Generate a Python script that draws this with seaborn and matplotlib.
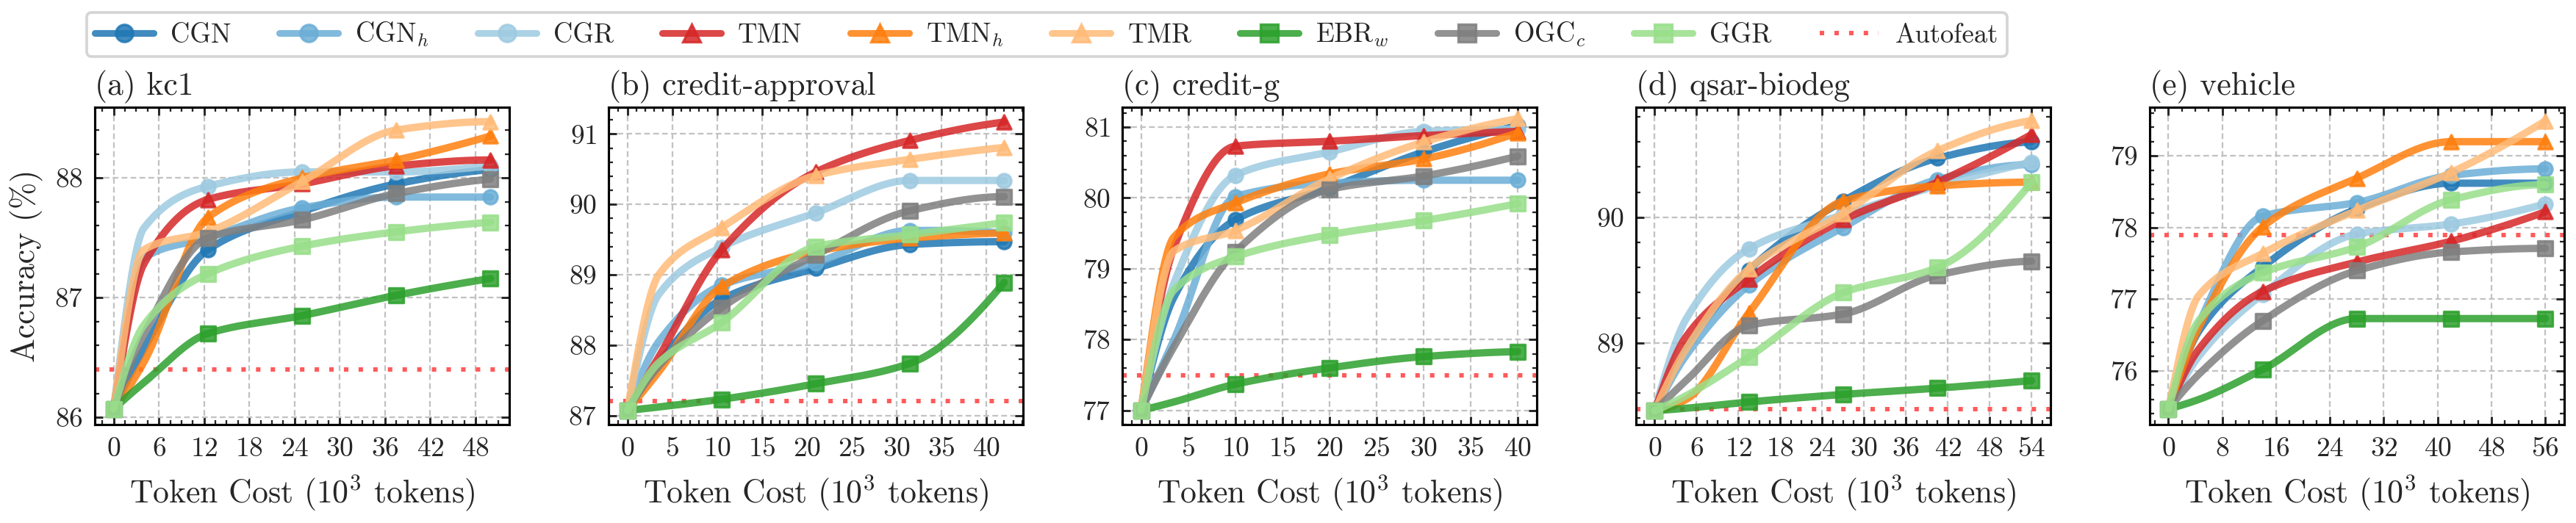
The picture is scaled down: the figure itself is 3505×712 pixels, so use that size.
import numpy as np
import matplotlib
matplotlib.use("Agg")
import matplotlib.pyplot as plt
from matplotlib.lines import Line2D
from matplotlib.ticker import MultipleLocator, AutoMinorLocator
import seaborn as sns

# Methods, colours and markers (legend order)
METHODS = ["CGN", "CGN$_h$", "CGR", "TMN", "TMN$_h$", "TMR", "EBR$_w$", "OGC$_c$", "GGR"]
COLORS = ["#1f77b4", "#6baed6", "#9ecae1", "#d62728", "#ff7f0e", "#ffbb78",
          "#2ca02c", "#7f7f7f", "#98df8a"]
MARKERS = ["o", "o", "o", "^", "^", "^", "s", "s", "s"]

# (a) kc1 -- second point is an unmarked intermediate step
KC1_X = [0, 4, 12.5, 25, 37.5, 50]
KC1_CGN = [86.07, 86.57, 87.40, 87.72, 87.95, 88.07]
KC1_CGNH = [86.07, 87.33, 87.50, 87.75, 87.84, 87.84]
KC1_CGR = [86.07, 87.58, 87.93, 88.05, 88.05, 88.10]
KC1_TMN = [86.07, 87.28, 87.82, 87.95, 88.10, 88.15]
KC1_TMNH = [86.07, 86.46, 87.67, 88.00, 88.15, 88.35]
KC1_TMR = [86.07, 87.40, 87.55, 87.97, 88.40, 88.47]
KC1_EBR = [86.07, 86.29, 86.70, 86.85, 87.02, 87.16]
KC1_OGC = [86.07, 86.69, 87.50, 87.65, 87.87, 87.99]
KC1_GGR = [86.07, 86.77, 87.20, 87.43, 87.55, 87.63]
KC1_AUTOFEAT = 86.40

# (b) credit-approval
CA_X = [0, 3.5, 10.5, 21, 31.5, 42]
CA_CGN = [87.07, 87.75, 88.65, 89.09, 89.43, 89.47]
CA_CGNH = [87.07, 88.05, 88.85, 89.17, 89.63, 89.59]
CA_CGR = [87.07, 88.72, 89.39, 89.88, 90.34, 90.34]
CA_TMN = [87.07, 87.83, 89.35, 90.46, 90.91, 91.17]
CA_TMNH = [87.07, 87.62, 88.83, 89.33, 89.52, 89.59]
CA_TMR = [87.07, 89.00, 89.67, 90.41, 90.64, 90.81]
CA_EBR = [87.07, 87.12, 87.23, 87.45, 87.74, 88.89]
CA_OGC = [87.07, 87.70, 88.53, 89.28, 89.91, 90.11]
CA_GGR = [87.07, 87.75, 88.32, 89.40, 89.57, 89.74]
CA_AUTOFEAT = 87.20

# (c) credit-g
CG_X = [0, 3.5, 10, 20, 30, 40]
CG_CGN = [77.0, 78.6, 79.69, 80.14, 80.65, 81.02]
CG_CGNH = [77.0, 78.0, 80.02, 80.21, 80.25, 80.25]
CG_CGR = [77.0, 78.8, 80.32, 80.65, 80.94, 80.97]
CG_TMN = [77.0, 79.3, 80.73, 80.80, 80.88, 80.94]
CG_TMNH = [77.0, 79.45, 79.93, 80.34, 80.55, 80.92]
CG_TMR = [77.0, 79.25, 79.54, 80.27, 80.79, 81.12]
CG_EBR = [77.0, 77.12, 77.37, 77.60, 77.76, 77.83]
CG_OGC = [77.0, 77.9, 79.24, 80.12, 80.31, 80.59]
CG_GGR = [77.0, 78.7, 79.17, 79.48, 79.68, 79.92]
CG_AUTOFEAT = 77.50

# (d) qsar-biodeg
QB_X = [0, 4.5, 13.5, 27, 40.5, 54]
QB_CGN = [88.46, 88.95, 89.58, 90.13, 90.47, 90.60]
QB_CGNH = [88.46, 88.90, 89.46, 89.92, 90.30, 90.42]
QB_CGR = [88.46, 89.19, 89.75, 90.02, 90.25, 90.44]
QB_TMN = [88.46, 89.05, 89.51, 89.98, 90.28, 90.66]
QB_TMNH = [88.46, 88.55, 89.24, 90.13, 90.25, 90.28]
QB_TMR = [88.46, 88.95, 89.59, 90.03, 90.53, 90.77]
QB_EBR = [88.46, 88.48, 88.53, 88.59, 88.64, 88.70]
QB_OGC = [88.46, 88.70, 89.14, 89.23, 89.54, 89.65]
QB_GGR = [88.46, 88.58, 88.89, 89.40, 89.60, 90.28]
QB_AUTOFEAT = 88.47

# (e) vehicle
VE_X = [0, 4.5, 14, 28, 42, 56]
VE_CGN = [75.47, 76.55, 77.45, 78.26, 78.62, 78.62]
VE_CGNH = [75.47, 76.65, 78.16, 78.35, 78.73, 78.82]
VE_CGR = [75.47, 76.20, 77.07, 77.91, 78.05, 78.33]
VE_TMN = [75.47, 76.30, 77.11, 77.52, 77.81, 78.22]
VE_TMNH = [75.47, 76.60, 78.01, 78.69, 79.20, 79.20]
VE_TMR = [75.47, 77.05, 77.64, 78.24, 78.77, 79.49]
VE_EBR = [75.47, 75.60, 76.02, 76.73, 76.73, 76.73]
VE_OGC = [75.47, 75.95, 76.70, 77.40, 77.66, 77.71]
VE_GGR = [75.47, 76.70, 77.37, 77.73, 78.39, 78.60]
VE_AUTOFEAT = 77.90

PANELS = [
    ("(a) kc1", KC1_X, [KC1_CGN, KC1_CGNH, KC1_CGR, KC1_TMN, KC1_TMNH, KC1_TMR,
                        KC1_EBR, KC1_OGC, KC1_GGR], KC1_AUTOFEAT, 6, (85.94, 88.59)),
    ("(b) credit-approval", CA_X, [CA_CGN, CA_CGNH, CA_CGR, CA_TMN, CA_TMNH, CA_TMR,
                                   CA_EBR, CA_OGC, CA_GGR], CA_AUTOFEAT, 5, (86.87, 91.38)),
    ("(c) credit-g", CG_X, [CG_CGN, CG_CGNH, CG_CGR, CG_TMN, CG_TMNH, CG_TMR,
                            CG_EBR, CG_OGC, CG_GGR], CG_AUTOFEAT, 5, (76.80, 81.28)),
    ("(d) qsar-biodeg", QB_X, [QB_CGN, QB_CGNH, QB_CGR, QB_TMN, QB_TMNH, QB_TMR,
                               QB_EBR, QB_OGC, QB_GGR], QB_AUTOFEAT, 6, (88.35, 90.876)),
    ("(e) vehicle", VE_X, [VE_CGN, VE_CGNH, VE_CGR, VE_TMN, VE_TMNH, VE_TMR,
                           VE_EBR, VE_OGC, VE_GGR], VE_AUTOFEAT, 8, (75.25, 79.68)),
]

LW = 2.4
MS = 4.6
ALPHA = 0.85
AF_COLOR = "#ff5a5a"
AF_STYLE = (0, (1, 2.3))


def pchip(x, y, xs):
    # monotone cubic (Fritsch-Carlson), only used to draw the smooth curves
    x = np.asarray(x, float)
    y = np.asarray(y, float)
    h = np.diff(x)
    d = np.diff(y) / h
    n = len(x)
    m = np.zeros(n)
    for k in range(1, n - 1):
        if d[k - 1] * d[k] > 0:
            w1 = 2 * h[k] + h[k - 1]
            w2 = h[k] + 2 * h[k - 1]
            m[k] = (w1 + w2) / (w1 / d[k - 1] + w2 / d[k])

    def end_slope(h0, h1, d0, d1):
        s = ((2 * h0 + h1) * d0 - h0 * d1) / (h0 + h1)
        if np.sign(s) != np.sign(d0):
            s = 0.0
        elif np.sign(d0) != np.sign(d1) and abs(s) > abs(3 * d0):
            s = 3 * d0
        return s

    m[0] = end_slope(h[0], h[1], d[0], d[1])
    m[-1] = end_slope(h[-1], h[-2], d[-1], d[-2])
    idx = np.clip(np.searchsorted(x, xs) - 1, 0, n - 2)
    t = (xs - x[idx]) / h[idx]
    h00 = 2 * t**3 - 3 * t**2 + 1
    h10 = t**3 - 2 * t**2 + t
    h01 = -2 * t**3 + 3 * t**2
    h11 = t**3 - t**2
    return (h00 * y[idx] + h10 * h[idx] * m[idx]
            + h01 * y[idx + 1] + h11 * h[idx] * m[idx + 1])


sns.set_theme(style="ticks")
plt.rcParams.update({
    "font.family": "serif",
    "font.serif": ["cmr10", "DejaVu Serif"],
    "mathtext.fontset": "cm",
    "axes.formatter.use_mathtext": True,
    "axes.linewidth": 0.75,
    "axes.edgecolor": "black",
    "xtick.direction": "in",
    "ytick.direction": "in",
    "xtick.major.size": 2.6,
    "ytick.major.size": 2.6,
    "xtick.minor.size": 1.4,
    "ytick.minor.size": 1.4,
    "xtick.major.width": 0.7,
    "ytick.major.width": 0.7,
    "xtick.minor.width": 0.55,
    "ytick.minor.width": 0.55,
    "xtick.major.pad": 4.0,
    "ytick.major.pad": 3.8,
    "xtick.labelsize": 9,
    "ytick.labelsize": 9,
})

fig, axes = plt.subplots(1, 5, figsize=(3505 / 300, 712 / 300), dpi=300)
plt.subplots_adjust(left=0.0368, right=0.9954, bottom=0.1882, top=0.7949, wspace=0.239)

for ax, (title, xs, series, autofeat, xstep, ylim) in zip(axes, PANELS):
    xfine = np.linspace(xs[0], xs[-1], 400)
    mark_idx = [0] + list(range(2, len(xs)))
    for i, ys in enumerate(series):
        sns.lineplot(x=xfine, y=pchip(xs, ys, xfine), ax=ax, color=COLORS[i],
                     lw=LW, alpha=ALPHA, zorder=3 + 2 * i, sort=False,
                     errorbar=None, legend=False)
        sns.scatterplot(x=[xs[k] for k in mark_idx], y=[ys[k] for k in mark_idx],
                        ax=ax, color=COLORS[i], marker=MARKERS[i], s=MS ** 2,
                        alpha=ALPHA, linewidth=0.8, edgecolor=COLORS[i],
                        zorder=4 + 2 * i, legend=False)
    ax.axhline(autofeat, color=AF_COLOR, lw=1.45, ls=AF_STYLE, zorder=2.5)

    ax.set_ylim(*ylim)
    ax.margins(x=0.05)
    ax.xaxis.set_major_locator(MultipleLocator(xstep))
    ax.xaxis.set_minor_locator(AutoMinorLocator())
    ax.yaxis.set_major_locator(MultipleLocator(1))
    ax.yaxis.set_minor_locator(AutoMinorLocator(5))
    ax.tick_params(which="both", top=True, right=True)
    ax.grid(True, which="major", color="#c2c2c2", ls=(0, (3.4, 1.9)), lw=0.55)
    ax.set_axisbelow(True)
    ax.set_title(title, loc="left", fontsize=10.5, pad=4)
    ax.set_xlabel(r"Token Cost ($10^3$ tokens)", fontsize=10.5, labelpad=4)

axes[0].set_ylabel("Accuracy (%)", fontsize=10.5, labelpad=4)

handles = [Line2D([], [], color=c, lw=2.2, marker=m, ms=5.6, mew=0.8, alpha=ALPHA)
           for c, m in zip(COLORS, MARKERS)]
handles.append(Line2D([], [], color=AF_COLOR, lw=1.45, ls=AF_STYLE))
fig.legend(handles, METHODS + ["Autofeat"], loc="upper center",
           bbox_to_anchor=(0.4063, 0.976), borderaxespad=0, ncol=10, fontsize=8.8,
           frameon=True, fancybox=True, edgecolor="#d5d5d5", framealpha=1,
           handlelength=2.18, handletextpad=0.63, columnspacing=1.8, borderpad=0.3)
fig.legends[0].get_frame().set_linewidth(0.9)

fig.savefig("out.png", dpi=300)
